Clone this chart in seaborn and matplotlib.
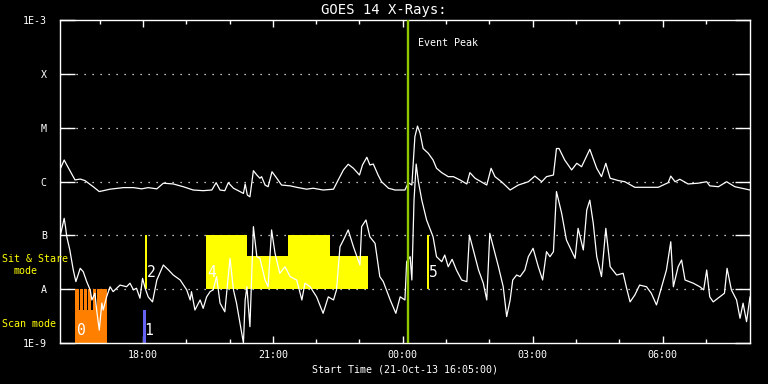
import numpy as np
import pandas as pd
import matplotlib
matplotlib.use("Agg")
import matplotlib.pyplot as plt
from matplotlib.ticker import FixedLocator, NullLocator
import seaborn as sns

# ---------------- data ----------------
# hours since 00:00 on 21-Oct-13 (values > 24 are on 22-Oct)
t_long = [16.08, 16.18, 16.24, 16.43, 16.55, 16.66, 16.85, 16.99, 17.24, 17.55, 17.78, 17.97,
          18.12, 18.32, 18.47, 18.70, 18.93, 19.16, 19.39, 19.59, 19.69, 19.78, 19.89, 19.97,
          20.09, 20.24, 20.32, 20.36, 20.41, 20.47, 20.55, 20.63, 20.70, 20.74, 20.82, 20.89,
          20.98, 21.09, 21.20, 21.40, 21.55, 21.78, 21.93, 22.16, 22.40, 22.51, 22.63, 22.74,
          22.86, 23.00, 23.07, 23.17, 23.24, 23.32, 23.43, 23.51, 23.67, 23.82, 24.01,
          24.05, 24.13, 24.21, 24.28, 24.34, 24.40, 24.47, 24.59, 24.70, 24.78, 24.90, 25.05,
          25.17, 25.32, 25.48, 25.55, 25.67, 25.94, 26.04, 26.13, 26.28, 26.48, 26.67, 26.90,
          27.05, 27.21, 27.32, 27.48, 27.55, 27.61, 27.74, 27.90, 28.02, 28.13, 28.32, 28.48,
          28.59, 28.69, 28.79, 28.98, 29.13, 29.36, 29.59, 29.90, 30.13, 30.19, 30.29, 30.40,
          30.59, 30.82, 31.02, 31.09, 31.29, 31.48, 31.67, 32.02]
flux_long = [1.64e-6, 2.51e-6, 2.03e-6, 1.07e-6, 1.11e-6, 1.04e-6, 8.0e-7, 6.5e-7, 7.2e-7, 7.7e-7,
             7.7e-7, 7.3e-7, 7.7e-7, 7.3e-7, 9.3e-7, 9.0e-7, 8.0e-7, 6.95e-7, 6.75e-7, 6.95e-7,
             9.5e-7, 6.95e-7, 6.75e-7, 9.5e-7, 7.5e-7, 6.5e-7, 6.0e-7, 9.0e-7, 5.6e-7, 5.2e-7,
             1.59e-6, 1.32e-6, 1.15e-6, 1.23e-6, 8.6e-7, 8.0e-7, 1.52e-6, 1.15e-6, 8.6e-7, 8.3e-7,
             7.8e-7, 7.2e-7, 7.5e-7, 6.95e-7, 7.2e-7, 1.07e-6, 1.64e-6, 2.09e-6, 1.76e-6, 1.32e-6,
             2.03e-6, 2.82e-6, 2.03e-6, 2.11e-6, 1.32e-6, 9.9e-7, 7.5e-7, 6.95e-7, 6.95e-7,
             6.95e-7, 9.5e-7, 8.6e-7, 6.8e-6, 1.07e-5, 7.9e-6, 4.1e-6, 3.34e-6, 2.51e-6, 1.76e-6,
             1.46e-6, 1.23e-6, 1.23e-6, 1.07e-6, 9.0e-7, 1.46e-6, 1.15e-6, 8.6e-7, 1.76e-6, 1.23e-6,
             9.9e-7, 6.95e-7, 8.6e-7, 9.9e-7, 1.26e-6, 9.9e-7, 1.23e-6, 1.32e-6, 4.1e-6, 4.1e-6,
             2.51e-6, 1.64e-6, 2.18e-6, 1.88e-6, 3.96e-6, 1.76e-6, 1.23e-6, 2.18e-6, 1.15e-6,
             1.04e-6, 9.9e-7, 7.8e-7, 7.8e-7, 7.8e-7, 9.5e-7, 1.26e-6, 9.9e-7, 1.10e-6, 9.0e-7,
             9.3e-7, 9.9e-7, 8.3e-7, 8.0e-7, 9.9e-7, 8.0e-7, 6.95e-7]

t_short = [16.08, 16.12, 16.18, 16.21, 16.24, 16.31, 16.39, 16.45, 16.55, 16.62, 16.70, 16.78,
           16.82, 16.89, 16.93, 16.99, 17.05, 17.08, 17.16, 17.24, 17.31, 17.47, 17.62, 17.70,
           17.78, 17.85, 17.93, 17.99, 18.05, 18.12, 18.22, 18.32, 18.47, 18.59, 18.70, 18.86,
           19.01, 19.09, 19.12, 19.20, 19.32, 19.39, 19.47, 19.55, 19.62, 19.70, 19.78, 19.89,
           20.01, 20.09, 20.16, 20.28, 20.32, 20.36, 20.40, 20.47, 20.55, 20.63, 20.70, 20.82,
           20.89, 20.97, 21.05, 21.16, 21.28, 21.40, 21.55, 21.67, 21.74, 21.86, 22.01, 22.16,
           22.28, 22.40, 22.47, 22.55, 22.63, 22.74, 22.86, 23.01, 23.05, 23.15, 23.24, 23.36,
           23.47, 23.55, 23.71, 23.84, 23.94, 24.05, 24.09, 24.17, 24.21, 24.26, 24.31, 24.36,
           24.44, 24.55, 24.70, 24.78, 24.90, 24.97, 25.05, 25.14, 25.24, 25.36, 25.48, 25.54,
           25.63, 25.75, 25.86, 25.94, 26.01, 26.09, 26.21, 26.32, 26.40, 26.48, 26.54, 26.63,
           26.71, 26.82, 26.90, 27.01, 27.13, 27.23, 27.32, 27.40, 27.48, 27.55, 27.67, 27.78,
           27.98, 28.05, 28.17, 28.25, 28.32, 28.40, 28.48, 28.59, 28.69, 28.79, 28.94, 29.09,
           29.17, 29.25, 29.36, 29.47, 29.63, 29.74, 29.86, 29.98, 30.09, 30.19, 30.25, 30.36,
           30.44, 30.52, 30.71, 30.86, 30.95, 31.02, 31.09, 31.17, 31.32, 31.43, 31.49, 31.59,
           31.71, 31.79, 31.86, 31.94, 32.02]
flux_short = [9.4e-8, 1.26e-7, 2.07e-7, 1.45e-7, 9.4e-8, 5.35e-8, 2.27e-8, 1.38e-8, 2.44e-8,
              2.11e-8, 1.38e-8, 9.7e-9, 6.3e-9, 8.4e-9, 4.1e-9, 1.74e-9, 5.5e-9, 4.1e-9, 7.2e-9,
              1.11e-8, 9.0e-9, 1.19e-8, 1.11e-8, 1.29e-8, 9.7e-9, 1.04e-8, 6.8e-9, 1.59e-8,
              1.04e-8, 7.2e-9, 5.8e-9, 1.48e-8, 2.81e-8, 2.27e-8, 1.83e-8, 1.48e-8, 9.7e-9,
              6.3e-9, 9.0e-9, 4.1e-9, 6.3e-9, 4.4e-9, 7.2e-9, 9.0e-9, 9.7e-9, 1.71e-8, 5.5e-9,
              3.8e-9, 3.74e-8, 9.7e-9, 5.5e-9, 1.51e-9, 1.0e-9, 6.3e-9, 1.11e-8, 2.01e-9, 1.45e-7,
              4.01e-8, 3.74e-8, 1.48e-8, 1.11e-8, 1.26e-7, 4.63e-8, 1.97e-8, 2.61e-8, 1.71e-8,
              1.48e-8, 6.3e-9, 1.29e-8, 1.11e-8, 7.2e-9, 3.56e-9, 7.2e-9, 6.3e-9, 9.7e-9, 6.15e-8,
              8.2e-8, 1.26e-7, 6.15e-8, 2.81e-8, 1.45e-7, 1.93e-7, 9.4e-8, 7.1e-8, 1.71e-8,
              1.38e-8, 6.3e-9, 3.56e-9, 7.2e-9, 6.3e-9, 3.24e-8, 4.01e-8, 1.48e-8, 4.5e-7,
              2.11e-6, 1.0e-6, 4.5e-7, 1.93e-7, 9.4e-8, 4.01e-8, 3.24e-8, 4.3e-8, 2.61e-8,
              3.59e-8, 2.27e-8, 1.48e-8, 1.38e-8, 1.01e-7, 5.35e-8, 2.27e-8, 1.29e-8, 6.3e-9,
              1.09e-7, 6.15e-8, 2.61e-8, 1.11e-8, 3.09e-9, 6.3e-9, 1.48e-8, 1.83e-8, 1.71e-8,
              2.27e-8, 4.01e-8, 5.74e-8, 2.61e-8, 1.48e-8, 4.97e-8, 4.01e-8, 4.97e-8, 6.5e-7,
              2.56e-7, 8.2e-8, 3.74e-8, 1.35e-7, 5.35e-8, 2.96e-7, 4.5e-7, 1.67e-7, 4.01e-8,
              1.71e-8, 1.35e-7, 2.61e-8, 1.83e-8, 1.97e-8, 1.04e-8, 5.8e-9, 7.8e-9, 1.19e-8,
              1.11e-8, 8.4e-9, 5.1e-9, 1.11e-8, 2.27e-8, 7.6e-8, 1.11e-8, 2.61e-8, 3.48e-8,
              1.48e-8, 1.29e-8, 1.11e-8, 9.7e-9, 2.27e-8, 7.2e-9, 5.8e-9, 7.2e-9, 8.4e-9,
              2.44e-8, 9.7e-9, 6.3e-9, 2.88e-9, 5.5e-9, 2.49e-9, 7.2e-9]

ytick_values = [1e-9, 1e-8, 1e-7, 1e-6, 1e-5, 1e-4, 1e-3]
ytick_labels = ["1E-9", "A", "B", "C", "M", "X", "1E-3"]
xtick_hours = [18, 21, 24, 27, 30]
xtick_labels = ["18:00", "21:00", "00:00", "03:00", "06:00"]
x_start, x_end = 16.0833, 32.02

# Scan mode observations
scan_start = [16.43, 18.00]
scan_end = [17.16, 18.06]
scan_top = [1e-8, 4.1e-9]
scan_bottom = 1e-9
scan_ids = ["0", "1"]
scan_colors = ["#ff8000", "#6464f0"]
scan_gap_times = [16.52, 16.62, 16.71, 16.81, 16.91]
scan_gap_bottom = 4.1e-9

# Sit & Stare observations
ss_start = [18.05, 19.455, 20.395, 21.342, 22.319, 24.56]
ss_end = [18.10, 20.395, 21.342, 22.319, 23.189, 24.61]
ss_top = [1e-7, 1e-7, 4.2e-8, 1e-7, 4.2e-8, 1e-7]
ss_bottom = 1e-8
ss_ids = ["2", "4", "", "", "", "5"]

event_peak = 24.113

# ---------------- style ----------------
sns.set_style("dark", {"axes.facecolor": "black", "figure.facecolor": "black",
                       "axes.edgecolor": "white", "text.color": "white",
                       "xtick.color": "white", "ytick.color": "white"})
plt.rcParams["font.family"] = ["DejaVu Sans Mono", "DejaVu Sans"]
FS = 7.2

fig = plt.figure(figsize=(7.68, 3.84), dpi=100, facecolor="black")
ax = fig.add_axes([60 / 768, 41 / 384, 690 / 768, 323 / 384])
ax.set_facecolor("black")
ax.set_yscale("log")

# bars: scan mode
ax.bar(scan_start, [t - scan_bottom for t in scan_top],
       width=[e - s for s, e in zip(scan_start, scan_end)],
       bottom=scan_bottom, align="edge", color=scan_colors, linewidth=0, zorder=2)
ax.bar(scan_gap_times, [scan_top[0] - scan_gap_bottom] * len(scan_gap_times),
       width=0.024, bottom=scan_gap_bottom, align="edge", color="black",
       linewidth=0, zorder=2.1)
# bars: sit & stare
ax.bar(ss_start, [t - ss_bottom for t in ss_top],
       width=[e - s for s, e in zip(ss_start, ss_end)],
       bottom=ss_bottom, align="edge", color="#ffff00", linewidth=0, zorder=2)

# curves
df_long = pd.DataFrame({"time": t_long, "flux": flux_long})
df_short = pd.DataFrame({"time": t_short, "flux": flux_short})
sns.lineplot(data=df_long, x="time", y="flux", ax=ax, color="white", lw=0.9,
             estimator=None, sort=False, zorder=3)
sns.lineplot(data=df_short, x="time", y="flux", ax=ax, color="white", lw=0.9,
             estimator=None, sort=False, zorder=3)

# ids
ID_FS = 10.5
for s, i in zip(scan_start, scan_ids):
    ax.annotate(i, xy=(s, 1.7e-9), xytext=(1.2, 0), textcoords="offset points",
                ha="left", va="center", fontsize=ID_FS, color="white", zorder=4,
                fontweight="light")
for s, i in zip(ss_start, ss_ids):
    if i:
        ax.annotate(i, xy=(s, 2.0e-8), xytext=(1.2, 0), textcoords="offset points",
                    ha="left", va="center", fontsize=ID_FS, color="white", zorder=4,
                    fontweight="light")

# event peak
ax.axvline(event_peak, color="#8ec900", lw=1.7, zorder=5)
ax.annotate("Event Peak", xy=(event_peak, 3.8e-4), xytext=(7.5, 0),
            textcoords="offset points", ha="left", va="center", fontsize=FS, color="white")

# axes
ax.set_xlim(x_start, x_end)
ax.set_ylim(1e-9, 1e-3)
ax.yaxis.set_major_locator(FixedLocator(ytick_values))
ax.yaxis.set_minor_locator(NullLocator())
ax.set_yticklabels(ytick_labels)
ax.xaxis.set_major_locator(FixedLocator(xtick_hours))
ax.xaxis.set_minor_locator(FixedLocator(np.arange(17, 32, 1)))
ax.set_xticklabels(xtick_labels)
ax.set_xlabel("")
ax.set_ylabel("")
ax.grid(False)
for lev in ytick_values[1:-1]:
    ax.axhline(lev, color="white", lw=0.9, linestyle=(0, (1.0, 5.4)), zorder=1)

ax.tick_params(axis="y", which="major", direction="in", length=10.8, width=1,
               left=True, right=True, pad=9.5, labelsize=FS, colors="white")
ax.tick_params(axis="x", which="major", direction="in", length=5, width=1,
               bottom=True, top=True, pad=5, labelsize=FS, colors="white")
ax.tick_params(axis="x", which="minor", direction="in", length=3, width=1,
               bottom=True, top=True)
for sp in ax.spines.values():
    sp.set_color("white")
    sp.set_linewidth(1)
    sp.set_visible(True)

# figure texts
fig.text(0.5, 1 - 10 / 384, "GOES 14 X-Rays:", ha="center", va="center",
         fontsize=10, color="white")
fig.text(405 / 768, 1 - 369 / 384, "Start Time (21-Oct-13 16:05:00)", ha="center",
         va="center", fontsize=FS, color="white")
fig.text(2 / 768, 1 - 259 / 384, "Sit & Stare", ha="left", va="center",
         fontsize=FS, color="#ffff00")
fig.text(13 / 768, 1 - 271 / 384, "mode", ha="left", va="center",
         fontsize=FS, color="#ffff00")
fig.text(2 / 768, 1 - 324 / 384, "Scan mode", ha="left", va="center",
         fontsize=FS, color="#ffff00")

fig.savefig("out.png", dpi=100, facecolor="black")
